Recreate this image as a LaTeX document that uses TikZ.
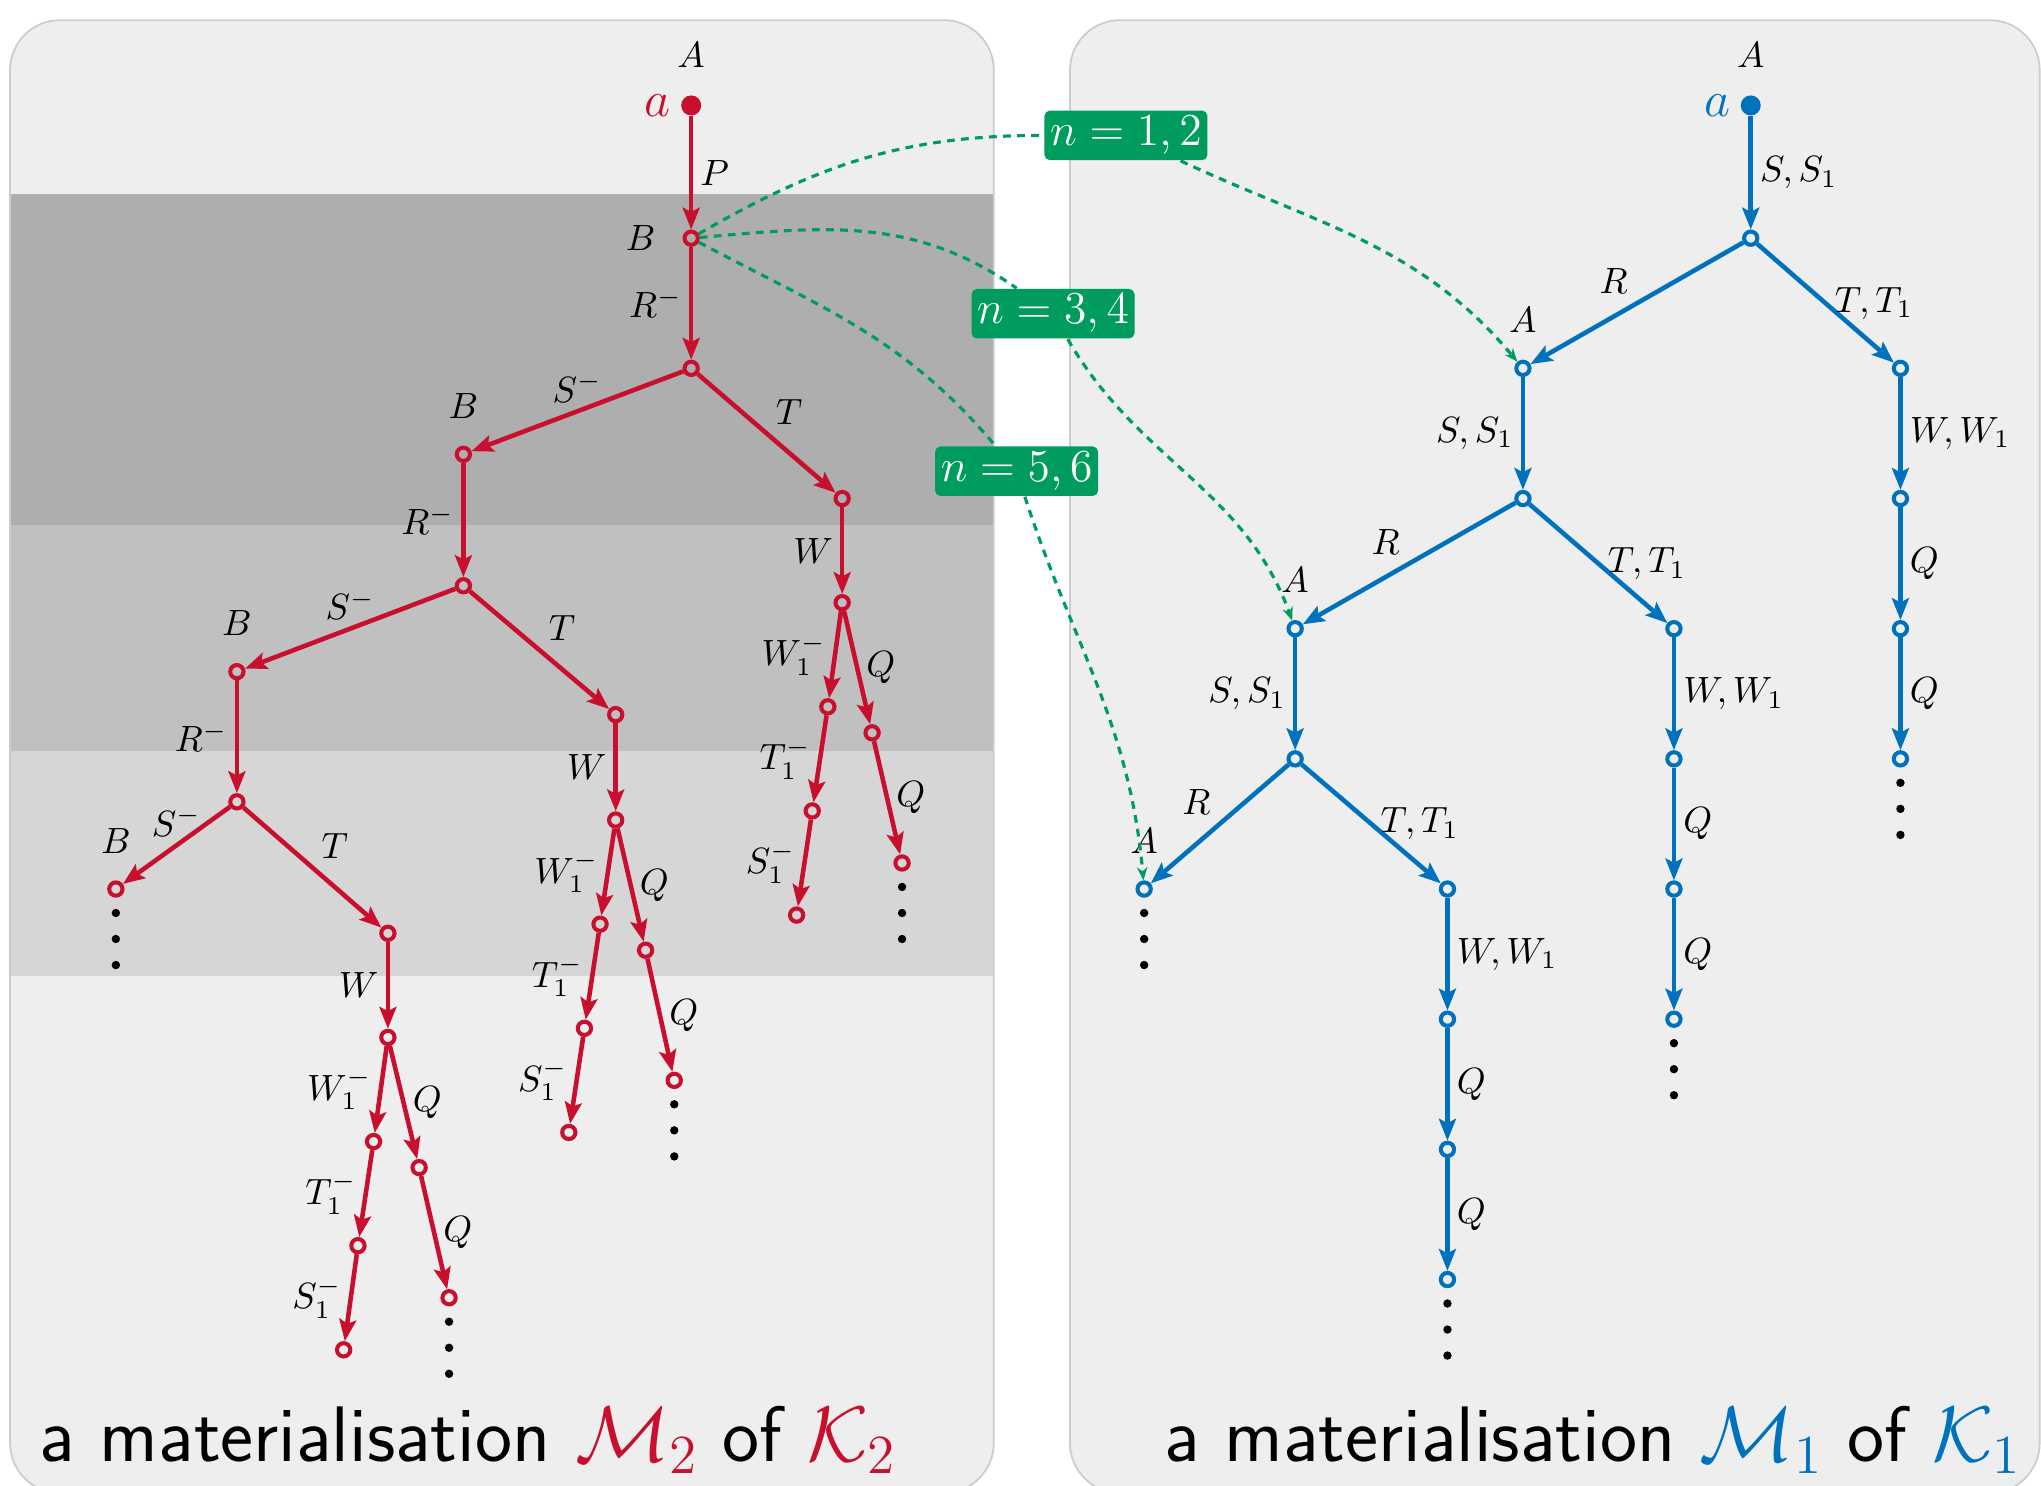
\RequirePackage{fix-cm}
\documentclass[tikz,border=0pt]{standalone}
\usepackage{amsmath}
\usepackage{tikz}
\usetikzlibrary{arrows.meta}
\definecolor{mred}{RGB}{200,16,46}
\definecolor{mblue}{RGB}{0,114,189}
\definecolor{mgreen}{RGB}{0,156,94}
\definecolor{panelbg}{RGB}{238,238,238}
\definecolor{panelrim}{RGB}{204,204,204}
\definecolor{banddark}{RGB}{174,174,174}
\definecolor{bandmid}{RGB}{192,192,192}
\definecolor{bandlight}{RGB}{214,214,214}

\begin{document}
\begin{tikzpicture}[
		x=1.3017cm, y=1.3017cm,
		font=\fontsize{10.4}{12.5}\selectfont,
		vtx/.style={circle, draw, line width=1.15pt, inner sep=0pt, minimum size=0.133cm},
		rv/.style={vtx, draw=mred},
		bv/.style={vtx, draw=mblue},
		rootv/.style={circle, fill=#1, inner sep=0pt, minimum size=0.2cm},
		edg/.style={-{Stealth[length=6.2pt, width=4.8pt, inset=1.2pt]}, line width=1.3pt},
		redge/.style={edg, draw=mred},
		bedge/.style={edg, draw=mblue},
		lbl/.style={inner sep=2pt},
		tag/.style={inner sep=2pt, label distance=5.5pt},
		smalla/.style={inner sep=1pt, label distance=1.5pt, font=\fontsize{14.4}{17}\selectfont},
		nbox/.style={fill=mgreen, text=white, rounded corners=1.5pt, inner sep=1.6pt, font=\fontsize{13}{15}\selectfont},
		link/.style={draw=mgreen, line width=0.9pt, dash pattern=on 2.2pt off 1.8pt},
		linkto/.style={link, -{Stealth[length=3.8pt, width=3pt]}},
		captxt/.style={font=\sffamily\fontsize{22.4}{27}\selectfont, inner sep=0pt}
		]
		\useasboundingbox (0,0) rectangle (15.68,-11.41);
		
		% Panels and bands
		\fill[panelbg, rounded corners=0.5cm] (0.077,-0.155) rectangle (7.635,-11.47);
		\fill[panelbg, rounded corners=0.5cm] (8.22,-0.155) rectangle (15.67,-11.47);
		\fill[banddark] (0.077,-1.49) rectangle (7.635,-4.03);
		\fill[bandmid] (0.077,-4.03) rectangle (7.635,-5.77);
		\fill[bandlight] (0.077,-5.77) rectangle (7.635,-7.50);
		\draw[panelrim, line width=0.5pt, rounded corners=0.5cm] (0.077,-0.155) rectangle (7.635,-11.47);
		\draw[panelrim, line width=0.5pt, rounded corners=0.5cm] (8.22,-0.155) rectangle (15.67,-11.47);
		
		% Tree of M2
		\node[rootv=mred, label={[tag]above:$A$}, label={[smalla, mred]left:$a$}] (ra) at (5.31,-0.81) {};
		\node[rv, label={[tag]left:$B$}] (rB) at (5.31,-1.83) {};
		\node[rv] (r2) at (5.31,-2.83) {};
		\node[rv, label={[tag]above:$B$}] (r3) at (3.56,-3.49) {};
		\node[rv] (r4) at (6.47,-3.83) {};
		\node[rv] (r5) at (3.56,-4.50) {};
		\node[rv, label={[tag]above:$B$}] (r6) at (1.82,-5.16) {};
		\node[rv] (r7) at (4.73,-5.49) {};
		\node[rv] (r8) at (1.82,-6.16) {};
		\node[rv, label={[tag]above:$B$}] (r9) at (0.89,-6.83) {};
		\node[rv] (r10) at (2.98,-7.17) {};
		\node[rv] (r11) at (2.98,-7.97) {};
		\node[rv] (r12) at (2.87,-8.77) {};
		\node[rv] (r13) at (3.22,-8.97) {};
		\node[rv] (r14) at (2.75,-9.57) {};
		\node[rv] (r15) at (3.45,-9.97) {};
		\node[rv] (r16) at (2.64,-10.37) {};
		\node[rv] (r17) at (6.47,-4.63) {};
		\node[rv] (r18) at (6.36,-5.43) {};
		\node[rv] (r19) at (6.70,-5.63) {};
		\node[rv] (r20) at (6.24,-6.23) {};
		\node[rv] (r21) at (6.93,-6.63) {};
		\node[rv] (r22) at (6.12,-7.03) {};
		\node[rv] (r23) at (4.73,-6.30) {};
		\node[rv] (r24) at (4.61,-7.10) {};
		\node[rv] (r25) at (4.96,-7.30) {};
		\node[rv] (r26) at (4.49,-7.90) {};
		\node[rv] (r27) at (5.18,-8.30) {};
		\node[rv] (r28) at (4.37,-8.70) {};
		
		\draw[redge] (ra) -- node[lbl, right] {$P$} (rB);
		\draw[redge] (rB) -- node[lbl, left] {$R^-$} (r2);
		\draw[redge] (r2) -- node[lbl, above] {$S^-$} (r3);
		\draw[redge] (r2) -- node[lbl, above right] {$T$} (r4);
		\draw[redge] (r3) -- node[lbl, left] {$R^-$} (r5);
		\draw[redge] (r5) -- node[lbl, above] {$S^-$} (r6);
		\draw[redge] (r5) -- node[lbl, above right] {$T$} (r7);
		\draw[redge] (r6) -- node[lbl, left] {$R^-$} (r8);
		\draw[redge] (r8) -- node[lbl, above] {$S^-$} (r9);
		\draw[redge] (r8) -- node[lbl, above right] {$T$} (r10);
		\draw[redge] (r10) -- node[lbl, left] {$W$} (r11);
		\draw[redge] (r11) -- node[lbl, left] {$W_1^-$} (r12);
		\draw[redge] (r11) -- node[lbl, right] {$Q$} (r13);
		\draw[redge] (r12) -- node[lbl, left] {$T_1^-$} (r14);
		\draw[redge] (r13) -- node[lbl, right] {$Q$} (r15);
		\draw[redge] (r14) -- node[lbl, left] {$S_1^-$} (r16);
		\draw[redge] (r4) -- node[lbl, left] {$W$} (r17);
		\draw[redge] (r17) -- node[lbl, left] {$W_1^-$} (r18);
		\draw[redge] (r17) -- node[lbl, right] {$Q$} (r19);
		\draw[redge] (r18) -- node[lbl, left] {$T_1^-$} (r20);
		\draw[redge] (r19) -- node[lbl, right] {$Q$} (r21);
		\draw[redge] (r20) -- node[lbl, left] {$S_1^-$} (r22);
		\draw[redge] (r7) -- node[lbl, left] {$W$} (r23);
		\draw[redge] (r23) -- node[lbl, left] {$W_1^-$} (r24);
		\draw[redge] (r23) -- node[lbl, right] {$Q$} (r25);
		\draw[redge] (r24) -- node[lbl, left] {$T_1^-$} (r26);
		\draw[redge] (r25) -- node[lbl, right] {$Q$} (r27);
		\draw[redge] (r26) -- node[lbl, left] {$S_1^-$} (r28);
		
		% Tree of M1
		\node[rootv=mblue, label={[tag]above:$A$}, label={[smalla, mblue]left:$a$}] (ba) at (13.45,-0.81) {};
		\node[bv] (b1) at (13.45,-1.83) {};
		\node[bv, label={[tag]above:$A$}] (b2) at (11.70,-2.83) {};
		\node[bv] (b3) at (14.60,-2.83) {};
		\node[bv] (b4) at (11.70,-3.83) {};
		\node[bv, label={[tag]above:$A$}] (b5) at (9.95,-4.83) {};
		\node[bv] (b6) at (12.86,-4.83) {};
		\node[bv] (b7) at (9.95,-5.83) {};
		\node[bv, label={[tag]above:$A$}] (b8) at (8.79,-6.83) {};
		\node[bv] (b9) at (11.12,-6.83) {};
		\node[bv] (b10) at (11.12,-7.83) {};
		\node[bv] (b11) at (11.12,-8.83) {};
		\node[bv] (b12) at (11.12,-9.83) {};
		\node[bv] (b13) at (12.86,-5.83) {};
		\node[bv] (b14) at (12.86,-6.83) {};
		\node[bv] (b15) at (12.86,-7.83) {};
		\node[bv] (b16) at (14.60,-3.83) {};
		\node[bv] (b17) at (14.60,-4.83) {};
		\node[bv] (b18) at (14.60,-5.83) {};
		
		\draw[bedge] (ba) -- node[lbl, right] {$S,S_1$} (b1);
		\draw[bedge] (b1) -- node[lbl, above left] {$R$} (b2);
		\draw[bedge] (b1) -- node[lbl, right] {$T,T_1$} (b3);
		\draw[bedge] (b2) -- node[lbl, left] {$S,S_1$} (b4);
		\draw[bedge] (b4) -- node[lbl, above left] {$R$} (b5);
		\draw[bedge] (b4) -- node[lbl, right] {$T,T_1$} (b6);
		\draw[bedge] (b5) -- node[lbl, left] {$S,S_1$} (b7);
		\draw[bedge] (b7) -- node[lbl, above left] {$R$} (b8);
		\draw[bedge] (b7) -- node[lbl, right] {$T,T_1$} (b9);
		\draw[bedge] (b9) -- node[lbl, right] {$W,W_1$} (b10);
		\draw[bedge] (b10) -- node[lbl, right] {$Q$} (b11);
		\draw[bedge] (b11) -- node[lbl, right] {$Q$} (b12);
		\draw[bedge] (b6) -- node[lbl, right] {$W,W_1$} (b13);
		\draw[bedge] (b13) -- node[lbl, right] {$Q$} (b14);
		\draw[bedge] (b14) -- node[lbl, right] {$Q$} (b15);
		\draw[bedge] (b3) -- node[lbl, right] {$W,W_1$} (b16);
		\draw[bedge] (b16) -- node[lbl, right] {$Q$} (b17);
		\draw[bedge] (b17) -- node[lbl, right] {$Q$} (b18);
		
		% Infinite branches
		\foreach \n in {r9,r15,r21,r27,b8,b12,b15,b18}
		\foreach \d in {0.184,0.384,0.584}
		\fill (\n) ++(0,-\d) circle[radius=0.042cm];
		
		% Homomorphism links
		\node[nbox] (g1) at (8.65,-1.04) {$n = 1,2$};
		\node[nbox] (g2) at (8.09,-2.41) {$n = 3,4$};
		\node[nbox] (g3) at (7.81,-3.62) {$n = 5,6$};
		\draw[link] (rB) to[out=30, in=180] (g1);
		\draw[linkto] (g1) to[out=-25, in=130] (b2);
		\draw[link] (rB) to[out=5, in=145] (g2);
		\draw[linkto] (g2) to[out=-60, in=110] (b5);
		\draw[link] (rB) to[out=-28, in=130] (g3);
		\draw[linkto] (g3) to[out=-72, in=95] (b8);
		
		% Captions
		\node[captxt, anchor=base west] (capL) at (0.30,-11.23) {a materialisation {\color{mred}$\mathcal{M}_2$} of {\color{mred}$\mathcal{K}_2$}};
		\node[captxt, anchor=base east] (capR) at (15.53,-11.23) {a materialisation {\color{mblue}$\mathcal{M}_1$} of {\color{mblue}$\mathcal{K}_1$}};
		
	\end{tikzpicture}
\end{document}
